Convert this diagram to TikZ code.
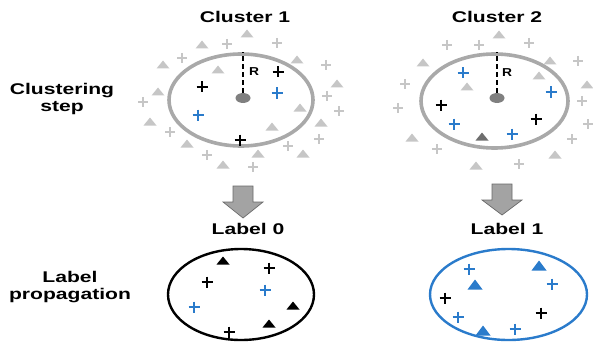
\documentclass[tikz,border=0pt]{standalone}
\usepackage{fontspec}
\usepackage{graphicx}
\usetikzlibrary{shapes.geometric}
\setmainfont{Liberation Sans}
\definecolor{ringgrey}{HTML}{A9A9A9}
\definecolor{pale}{HTML}{C6C6C6}
\definecolor{dotgrey}{HTML}{808080}
\definecolor{darktri}{HTML}{6E6E6E}
\definecolor{pblue}{HTML}{2A7BCB}
\definecolor{arrowfill}{HTML}{A3A3A3}
\definecolor{arrowline}{HTML}{6A6A6A}
% wide bold captions
\newcommand{\widetext}[1]{\scalebox{1.36}[1]{#1}}
\tikzset{
  caption/.style={font=\fontsize{15.5}{17.5}\selectfont\bfseries, align=center, inner sep=0pt},
  radius label/.style={font=\fontsize{11.5}{13}\selectfont\bfseries, inner sep=0pt},
  ring/.style={draw=ringgrey, line width=3.6pt},
  % small up-pointing triangle and plus markers
  tri/.pic={\fill (-6.5,3.5) -- (6.5,3.5) -- (0,-4.5) -- cycle;},
  bigtri/.pic={\fill (-7.5,4.5) -- (7.5,4.5) -- (0,-5.5) -- cycle;},
  pls/.pic={\draw[line width=2.2pt] (-5.5,0) -- (5.5,0) (0,-5.5) -- (0,5.5);},
  thinpls/.pic={\draw[line width=1.8pt] (-5,0) -- (5,0) (0,-5) -- (0,5);},
  bigarrow/.style={fill=arrowfill, draw=arrowline, line width=0.7pt, line join=miter},
}
\begin{document}
\begin{tikzpicture}[x=1pt,y=-1pt]
\useasboundingbox (0,0) rectangle (593,342);

% row captions
\node[caption] (cstep) at (62,99) {\widetext{Clustering}\\[-1pt]\widetext{step}};
\node[caption] (lprop) at (70,287) {\widetext{Label}\\[0pt]\widetext{propagation}};

% column titles
\node[caption] (t1) at (245,17) {\widetext{Cluster 1}};
\node[caption] (t2) at (497,17) {\widetext{Cluster 2}};

% ---------- cluster 1 ----------
\foreach \x/\y in {247/34,202/45,297/60,163/65,218/70,337/84,158/92,300/108,150/122,321/123,272/127,187/144,258/154,303/154,223/165}
  \pic[pale] at (\x,\y) {tri};
\foreach \x/\y in {227/44,277/43,182/58,326/65,327/96,143/102,339/111,170/132,319/139,288/146,207/155,253/167}
  \pic[pale] at (\x,\y) {thinpls};
\node[ring, ellipse, minimum width=144, minimum height=92, inner sep=0pt] (c1) at (241,100) {};
\node[fill=dotgrey, ellipse, minimum width=15, minimum height=10, inner sep=0pt] (d1) at (243,98) {};
\draw[line width=1.8pt, dash pattern=on 5pt off 3pt] (d1.north) -- (d1.north |- c1.north);
\node[radius label] (r1) at (254,72) {\scalebox{1.2}[1]{R}};
\foreach \x/\y in {278/72,202/87,240/140}
  \pic[black] at (\x,\y) {pls};
\foreach \x/\y in {277/93,198/115}
  \pic[pblue] at (\x,\y) {pls};

% ---------- cluster 2 ----------
\foreach \x/\y in {499/35,423/63,550/61,467/87,539/76,587/85,412/138,555/155,476/166}
  \pic[pale] at (\x,\y) {tri};
\pic[darktri] at (482,137) {tri};
\foreach \x/\y in {447/45,479/45,529/43,578/61,405/84,398/108,582/101,588/124,572/139,437/149,519/164}
  \pic[pale] at (\x,\y) {thinpls};
\node[ring, ellipse, minimum width=147, minimum height=94, inner sep=0pt] (c2) at (494.5,101) {};
\node[fill=dotgrey, ellipse, minimum width=15, minimum height=10, inner sep=0pt] (d2) at (497,98) {};
\draw[line width=1.8pt, dash pattern=on 5pt off 3pt] (d2.north) -- (d2.north |- c2.north);
\node[radius label] (r2) at (507,73) {\scalebox{1.2}[1]{R}};
\foreach \x/\y in {463/73,551/92,454/124,512/134}
  \pic[pblue] at (\x,\y) {pls};
\foreach \x/\y in {441/105,536/119}
  \pic[black] at (\x,\y) {pls};

% ---------- downward arrows ----------
\draw[bigarrow] (233,186) -- (253,186) -- (253,202) -- (263,202) -- (243,218)
  -- (223,202) -- (233,202) -- cycle;
\draw[bigarrow] (492,184) -- (512,184) -- (512,200) -- (522,200) -- (502,215)
  -- (482,200) -- (492,200) -- cycle;

\node[caption] (l0) at (248,229) {\widetext{Label 0}};
\node[caption] (l1) at (507,229) {\widetext{Label 1}};

% ---------- label 0 ----------
\node[draw=black, line width=2.4pt, ellipse, minimum width=146, minimum height=91, inner sep=0pt] (e0) at (241,294.5) {};
\foreach \x/\y in {223/261,293/306,269/324}
  \pic[black] at (\x,\y) {tri};
\foreach \x/\y in {269/268,207/282,229/332}
  \pic[black] at (\x,\y) {pls};
\foreach \x/\y in {265/290,194/307}
  \pic[pblue] at (\x,\y) {pls};

% ---------- label 1 ----------
\node[draw=pblue, line width=2.4pt, ellipse, minimum width=157, minimum height=91, inner sep=0pt] (e1) at (508.5,294.5) {};
\foreach \x/\y in {469/269,552/284,458/317,515/329}
  \pic[pblue] at (\x,\y) {pls};
\foreach \x/\y in {539/266,475/285,483/331}
  \pic[pblue] at (\x,\y) {bigtri};
\foreach \x/\y in {445/298,541/313}
  \pic[black] at (\x,\y) {pls};
\end{tikzpicture}
\end{document}
